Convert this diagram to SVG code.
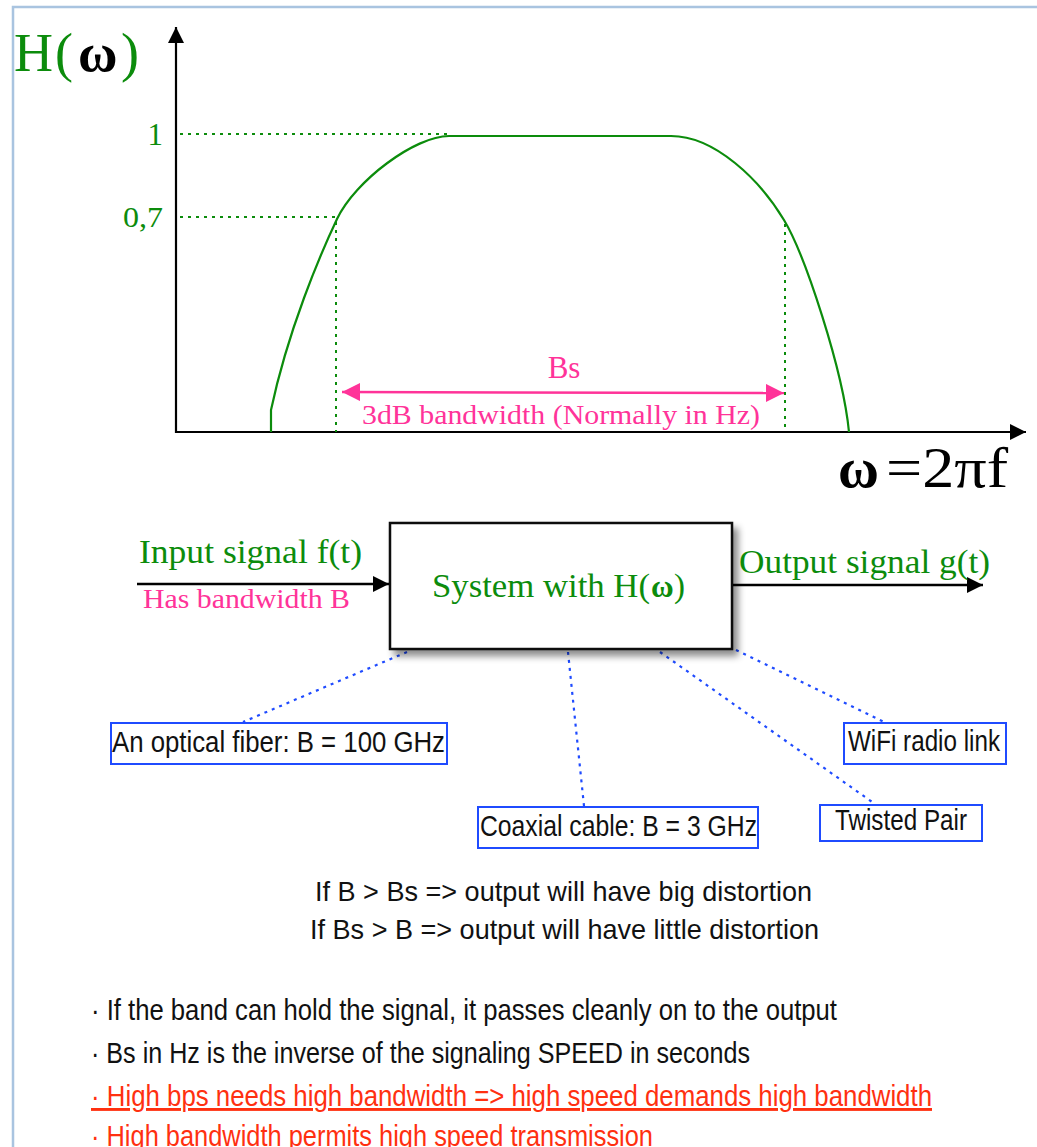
<svg xmlns="http://www.w3.org/2000/svg" width="1037" height="1147" viewBox="0 0 1037 1147">
<defs>
<style>
.serif{font-family:"Liberation Serif","DejaVu Serif",serif;}
.sans{font-family:"Liberation Sans","DejaVu Sans",sans-serif;fill:#111;}
.green{fill:#0c8c0c;}
.pink{fill:#ff3399;}
.gdot{stroke:#0c8c0c;stroke-width:2;stroke-dasharray:3 5;fill:none;}
.bdot{stroke:#1f4bff;stroke-width:2.2;stroke-dasharray:3 5;fill:none;}
.lbl{fill:#fff;stroke:#1f4bff;stroke-width:2;}
.axis{stroke:#000;stroke-width:2.2;fill:none;}
</style>
<marker id="ah" viewBox="0 0 10 10" refX="10" refY="5" markerWidth="23" markerHeight="16" markerUnits="userSpaceOnUse" orient="auto"><path d="M0,0 L10,5 L0,10 Z" fill="#000"/></marker>
<marker id="pk" viewBox="0 0 10 10" refX="10" refY="5" markerWidth="23" markerHeight="18" markerUnits="userSpaceOnUse" orient="auto-start-reverse"><path d="M0,0 L10,5 L0,10 Z" fill="#ff3399"/></marker>
<filter id="sh" x="-10%" y="-10%" width="130%" height="140%"><feDropShadow dx="5" dy="6" stdDeviation="3.5" flood-color="#000" flood-opacity="0.45"/></filter>
</defs>
<rect x="13" y="7" width="1100" height="1200" fill="#fff" stroke="#a9c4e0" stroke-width="2.5"/>

<g id="plot">
<line class="axis" x1="176" y1="433" x2="176" y2="27" marker-end="url(#ah)"/>
<line class="axis" x1="175" y1="432" x2="1026" y2="432" marker-end="url(#ah)"/>
<text class="serif" y="71" font-size="54"><tspan class="green" x="14">H</tspan><tspan class="green" x="55">(</tspan><tspan x="78" font-weight="bold" fill="#000">ω</tspan><tspan class="green" x="121">)</tspan></text>
<text class="serif green" x="163" y="145" font-size="31" text-anchor="end">1</text>
<text class="serif green" x="163" y="227" font-size="30" text-anchor="end" textLength="40" lengthAdjust="spacingAndGlyphs">0,7</text>
<path class="gdot" d="M180,134 L449,134 M180,217 L336,217 M336,222 L336,432 M785,224 L785,432"/>
<path d="M271,432 L271,410 C288,330 320,255 337,219 C355,181 415,136 449,136 L671,136 C715,136 760,180 784,220 C805,255 843,370 849,432" fill="none" stroke="#0c8c0c" stroke-width="2.2"/>
<line x1="342" y1="392" x2="784" y2="393" stroke="#ff3399" stroke-width="2.5" marker-start="url(#pk)" marker-end="url(#pk)"/>
<text class="serif pink" x="564" y="378" font-size="31" text-anchor="middle">Bs</text>
<text class="serif pink" x="362" y="424" font-size="27" textLength="398" lengthAdjust="spacingAndGlyphs">3dB bandwidth (Normally in Hz)</text>
<text class="serif" x="838" y="487" font-size="56" font-weight="bold" fill="#000">ω</text>
<text class="serif" x="886" y="487" font-size="56" fill="#000" textLength="122" lengthAdjust="spacingAndGlyphs">=2πf</text>
</g>

<g id="connectors">
<line x1="137" y1="584" x2="389" y2="584" stroke="#000" stroke-width="2.5" marker-end="url(#ah)"/>
<line x1="732" y1="585" x2="983" y2="585" stroke="#000" stroke-width="2.5" marker-end="url(#ah)"/>
<line class="bdot" x1="407" y1="652" x2="243" y2="722"/>
<line class="bdot" x1="568" y1="652" x2="584" y2="806"/>
<line class="bdot" x1="660" y1="652" x2="875" y2="804"/>
<line class="bdot" x1="736" y1="650" x2="884" y2="722"/>
</g>

<g id="input">
<text class="serif green" x="139" y="563" font-size="33" textLength="223" lengthAdjust="spacingAndGlyphs">Input signal f(t)</text>
<text class="serif pink" x="143" y="608" font-size="27" textLength="207" lengthAdjust="spacingAndGlyphs">Has bandwidth B</text>
</g>

<g id="system">
<rect x="390" y="523" width="342" height="126" fill="#fff" stroke="#111" stroke-width="2.5" filter="url(#sh)"/>
<text class="serif green" x="432" y="597" font-size="33" textLength="218" lengthAdjust="spacingAndGlyphs">System with H(</text>
<text class="serif green" x="651" y="597" font-size="31" font-weight="bold">ω</text>
<text class="serif green" x="674" y="597" font-size="33">)</text>
</g>

<g id="output">
<text class="serif green" x="739" y="573" font-size="33" textLength="251" lengthAdjust="spacingAndGlyphs">Output signal g(t)</text>
</g>

<g id="optical">
<rect class="lbl" x="111" y="723" width="336" height="41"/>
<text class="sans" x="112" y="752" font-size="30" textLength="333" lengthAdjust="spacingAndGlyphs">An optical fiber: B = 100 GHz</text>
</g>
<g id="coax">
<rect class="lbl" x="478" y="807" width="280" height="41"/>
<text class="sans" x="480" y="836" font-size="30" textLength="277" lengthAdjust="spacingAndGlyphs">Coaxial cable: B = 3 GHz</text>
</g>
<g id="wifi">
<rect class="lbl" x="844" y="723" width="162" height="41"/>
<text class="sans" x="848" y="751" font-size="30" textLength="152" lengthAdjust="spacingAndGlyphs">WiFi radio link</text>
</g>
<g id="twisted">
<rect class="lbl" x="820" y="805" width="162" height="36"/>
<text class="sans" x="835" y="830" font-size="30" textLength="132" lengthAdjust="spacingAndGlyphs">Twisted Pair</text>
</g>

<g id="notes">
<text class="sans" x="315" y="901" font-size="28" textLength="497" lengthAdjust="spacingAndGlyphs">If B &gt; Bs =&gt; output will have big distortion</text>
<text class="sans" x="310" y="939" font-size="28" textLength="509" lengthAdjust="spacingAndGlyphs">If Bs &gt; B =&gt; output will have little distortion</text>
<text class="sans" x="91" y="1020" font-size="29" textLength="746" lengthAdjust="spacingAndGlyphs">· If the band can hold the signal, it passes cleanly on to the output</text>
<text class="sans" x="91" y="1063" font-size="29" textLength="659" lengthAdjust="spacingAndGlyphs">· Bs in Hz is the inverse of the signaling SPEED in seconds</text>
<text class="sans" x="91" y="1106" font-size="29" style="fill:#ff3010" text-decoration="underline" textLength="841" lengthAdjust="spacingAndGlyphs">· High bps needs high bandwidth =&gt; high speed demands high bandwidth</text>
<text class="sans" x="91" y="1146" font-size="29" style="fill:#ff3010" textLength="562" lengthAdjust="spacingAndGlyphs">· High bandwidth permits high speed transmission</text>
</g>
</svg>
